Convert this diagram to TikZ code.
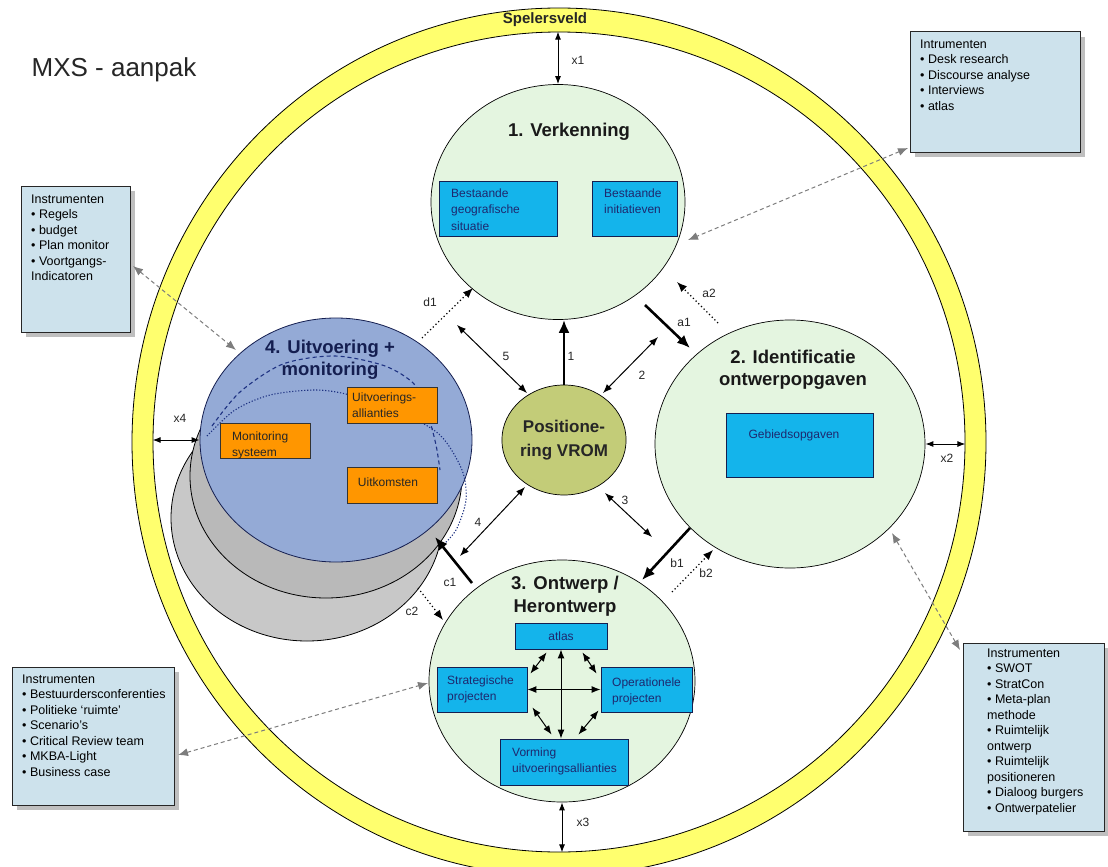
\documentclass[tikz,border=0pt]{standalone}
\usepackage{fontspec}
\setmainfont{Liberation Sans}
\usetikzlibrary{shapes.geometric,arrows.meta,calc}
\definecolor{ringy}{RGB}{255,255,110}
\definecolor{circg}{RGB}{228,245,224}
\definecolor{boxb}{RGB}{20,180,235}
\definecolor{navy}{RGB}{20,30,80}
\definecolor{navytxt}{RGB}{30,40,110}
\definecolor{orng}{RGB}{255,150,0}
\definecolor{instb}{RGB}{205,226,236}
\definecolor{posg}{RGB}{195,204,120}
\definecolor{blu4}{RGB}{148,170,214}
\definecolor{gry1}{RGB}{185,185,185}
\definecolor{gry2}{RGB}{200,200,200}
\definecolor{arcblue}{RGB}{30,50,130}
\definecolor{dgray}{RGB}{125,125,125}
\begin{document}
\begin{tikzpicture}[x=1pt,y=-1pt,
  circ/.style={ellipse, draw=black, line width=0.7pt, fill=circg, inner sep=0pt},
  bbox/.style={rectangle, draw=navy, line width=0.9pt, fill=boxb, inner sep=0pt},
  obox/.style={rectangle, draw=black!80, line width=0.8pt, fill=orng, inner sep=0pt},
  ibox/.style={rectangle, draw=black!85, line width=1pt, fill=instb, inner sep=0pt},
  btxt/.style={font=\fontsize{12}{16.5}\selectfont, text=navytxt, align=left, inner sep=0pt, anchor=north west},
  otxt/.style={font=\fontsize{12}{16}\selectfont, text=black!85, align=left, inner sep=0pt, anchor=north west},
  itxt/.style={font=\fontsize{12.5}{15.5}\selectfont, text=black, align=left, inner sep=0pt, anchor=north west},
  ttl/.style={font=\fontsize{18.5}{22}\selectfont\bfseries, text=black!90, align=center, inner sep=0pt},
  lbl/.style={font=\fontsize{12}{14}\selectfont, text=black!85, inner sep=0pt},
  dbl/.style={line width=1pt, {Latex[length=9pt,width=7pt]}-{Latex[length=9pt,width=7pt]}},
  xarr/.style={line width=1pt, {Latex[length=8pt,width=6pt]}-{Latex[length=8pt,width=6pt]}},
  thk/.style={line width=2.6pt, -{Latex[length=13pt,width=11pt]}},
  dotarr/.style={line width=1.2pt, dash pattern=on 1.2pt off 2.6pt, -{Latex[length=10pt,width=8pt]}},
  gdash/.style={dgray, line width=1pt, dash pattern=on 4pt off 3pt, {Latex[length=10pt,width=8pt]}-{Latex[length=10pt,width=8pt]}},
  shadow/.style={fill=black!25}
]
\useasboundingbox (0,0) rectangle (1108,867);
\fill[white] (0,0) rectangle (1108,867);

% ring
\begin{scope}
\clip (0,0) rectangle (1108,867);
\fill[ringy, even odd rule] (559,442) ellipse [x radius=427, y radius=434] (559,442) ellipse [x radius=406, y radius=410];
\draw[line width=0.8pt] (559,442) ellipse [x radius=427, y radius=434];
\end{scope}
\node[ellipse, draw, line width=0.8pt, minimum width=812pt, minimum height=820pt, inner sep=0pt] (ringin) at (559,442) {};
\node[font=\fontsize{15}{17}\selectfont\bfseries, text=black!85, inner sep=0pt] (spel) at (545,20) {Spelersveld};

\node[font=\fontsize{26}{30}\selectfont, text=black!85, inner sep=0pt] (title) at (114,70) {MXS - aanpak};

% circle 4 stack
\node[ellipse, draw=black, line width=0.8pt, fill=gry2, minimum width=272pt, minimum height=246pt, inner sep=0pt] (g2) at (307,518) {};
\node[ellipse, draw=black, line width=0.8pt, fill=gry1, minimum width=272pt, minimum height=244pt, inner sep=0pt] (g1) at (326,476) {};
\node[ellipse, draw=navy, line width=0.8pt, fill=blu4, minimum width=272pt, minimum height=244pt, inner sep=0pt] (c4) at (336,440) {};
\draw[arcblue, line width=1.1pt, dash pattern=on 4pt off 3pt] plot[smooth] coordinates {(212,426) (240,392) (283,364) (335,356) (385,366) (415,385) (428,415) (436,445) (440,470)};
\draw[arcblue, line width=1.1pt, dash pattern=on 1.2pt off 1.8pt] plot[smooth] coordinates {(207,436) (235,410) (270,395) (315,390) (350,395) (400,412) (440,435) (462,470) (466,500) (456,530) (440,548)};

% circles
\node[circ, minimum width=254pt, minimum height=235pt] (c1) at (558,202) {};
\node[circ, minimum width=270pt, minimum height=248pt] (c2) at (790,444) {};
\node[circ, minimum width=266pt, minimum height=242pt] (c3) at (562,681) {};
\node[ellipse, draw=black, line width=0.7pt, fill=posg, minimum width=114pt, minimum height=110pt, inner sep=0pt, align=center, font=\fontsize{17}{24}\selectfont\bfseries, text=black!85] (pos) at (564,440) {Positione-\\ring VROM};

% titles
\node[ttl] (t1) at (569,132) {1. Verkenning};
\node[ttl] (t2) at (793,370) {2. Identificatie\\ontwerpopgaven};
\node[ttl, font=\fontsize{18.5}{23}\selectfont\bfseries] (t3) at (565,596) {3. Ontwerp /\\Herontwerp};
\node[ttl, text=navy] (t4) at (330,360) {4. Uitvoering +\\monitoring};

% blue boxes
\node[bbox, minimum width=118pt, minimum height=55pt] (b11) at (498,208.5) {};
\node[btxt] (b11t) at (451,188.4) {Bestaande\\geografische\\situatie};
\node[bbox, minimum width=85pt, minimum height=55pt] (b12) at (634.5,208.5) {};
\node[btxt] (b12t) at (604,188.4) {Bestaande\\initiatieven};
\node[bbox, minimum width=147pt, minimum height=64pt] (b2) at (799.5,445) {};
\node[btxt, anchor=center] (b2t) at (794,435) {Gebiedsopgaven};
\node[bbox, minimum width=92pt, minimum height=26pt] (atlas) at (561,636) {};
\node[btxt, anchor=center] (atlast) at (561,636) {atlas};
\node[bbox, minimum width=90pt, minimum height=45pt] (strat) at (482,689.5) {};
\node[btxt] (stratt) at (447,675.4) {Strategische\\projecten};
\node[bbox, minimum width=91pt, minimum height=45pt] (oper) at (646.5,689.5) {};
\node[btxt] (opert) at (612,677.4) {Operationele\\projecten};
\node[bbox, minimum width=128pt, minimum height=46pt] (vorm) at (564,762) {};
\node[btxt] (vormt) at (512,747.4) {Vorming\\uitvoeringsallianties};

% orange boxes
\node[obox, minimum width=90pt, minimum height=36pt] (ua) at (392,405) {};
\node[otxt] (uat) at (352,392.4) {Uitvoerings-\\allianties};
\node[obox, minimum width=90pt, minimum height=35pt] (ms) at (265,440.5) {};
\node[otxt] (mst) at (232,431.4) {Monitoring\\systeem};
\node[obox, minimum width=90pt, minimum height=36pt] (uk) at (392,485) {};
\node[otxt, anchor=center] (ukt) at (388,482) {Uitkomsten};

% arrows inside circle 3
\draw[dbl] (atlas.south) -- (atlas.south |- vorm.north);
\draw[dbl] (strat.east) -- (oper.west);
\draw[dbl] ($(atlas.south west)+(32,3)$) -- ($(strat.north east)+(3,7)$);
\draw[dbl] ($(atlas.south east)+(-25,3)$) -- ($(oper.north west)+(-4,7)$);
\draw[dbl] ($(strat.south east)+(5,-5)$) -- ($(vorm.north west)+(52,-4)$);
\draw[dbl] ($(oper.south west)+(-2,-2)$) -- ($(vorm.north east)+(-50,-4)$);

% x arrows
\draw[xarr] (c1.north) -- (c1.north |- ringin.north);
\draw[xarr] (c2.east) -- (c2.east -| ringin.east);
\draw[xarr] (c3.south) -- (c3.south |- ringin.south);
\draw[xarr] (c4.west) -- (c4.west -| ringin.west);
\node[lbl] (lx1) at (578,60) {x1};
\node[lbl] (lx2) at (947,458) {x2};
\node[lbl] (lx3) at (583,822) {x3};
\node[lbl] (lx4) at (180,418) {x4};

% free coordinates
\coordinate (p5a) at (457,325); \coordinate (p5b) at (527,393);
\coordinate (p2a) at (658,337); \coordinate (p2b) at (603,393);
\coordinate (p3a) at (605,493); \coordinate (p3b) at (652,537);
\coordinate (p4a) at (525,487); \coordinate (p4b) at (460,556);
\coordinate (a1s) at (645,305); \coordinate (a1e) at (690,348);
\coordinate (a2s) at (718,323); \coordinate (a2e) at (677,282);
\coordinate (b1s) at (690,528); \coordinate (b1e) at (642,580);
\coordinate (b2s) at (672,592); \coordinate (b2e) at (713,550);
\coordinate (c1s) at (472,583); \coordinate (c1e) at (435,537);
\coordinate (c2s) at (418,588); \coordinate (c2e) at (443,620);
\coordinate (d1s) at (422,338); \coordinate (d1e) at (473,288);

\draw[thk] (pos.north) -- (pos.north |- c1.south);
\draw[dbl] (p5a) -- (p5b);
\draw[dbl] (p2a) -- (p2b);
\draw[dbl] (p3a) -- (p3b);
\draw[dbl] (p4a) -- (p4b);
\draw[thk] (a1s) -- (a1e);
\draw[dotarr] (a2s) -- (a2e);
\draw[thk] (b1s) -- (b1e);
\draw[dotarr] (b2s) -- (b2e);
\draw[thk] (c1s) -- (c1e);
\draw[dotarr] (c2s) -- (c2e);
\draw[dotarr] (d1s) -- (d1e);

\node[lbl] (l1) at (571,356) {1};
\node[lbl] (l5) at (506,356) {5};
\node[lbl] (l2) at (642,375) {2};
\node[lbl] (l3) at (625,500) {3};
\node[lbl] (l4) at (478,522) {4};
\node[lbl] (la1) at (684,322) {a1};
\node[lbl] (la2) at (709,293) {a2};
\node[lbl] (lb1) at (677,563) {b1};
\node[lbl] (lb2) at (706,573) {b2};
\node[lbl] (lc1) at (450,582) {c1};
\node[lbl] (lc2) at (412,611) {c2};
\node[lbl] (ld1) at (430,302) {d1};

% instrument boxes
\fill[shadow] (915,37) rectangle (1085,157);
\node[ibox, minimum width=170pt, minimum height=120pt] (itr) at (995,92) {};
\node[itxt] (itrt) at (920,39.5) {Intrumenten\\\textbullet\ Desk research\\\textbullet\ Discourse analyse\\\textbullet\ Interviews\\\textbullet\ atlas};

\fill[shadow] (26,191) rectangle (135,337);
\node[ibox, minimum width=109pt, minimum height=146pt] (il) at (75.5,259) {};
\node[itxt] (ilt) at (31,194.5) {Instrumenten\\\textbullet\ Regels\\\textbullet\ budget\\\textbullet\ Plan monitor\\\textbullet\ Voortgangs-\\Indicatoren};

\fill[shadow] (17,672) rectangle (179,810);
\node[ibox, minimum width=162pt, minimum height=138pt] (ibl) at (93,736) {};
\node[itxt] (iblt) at (22,674.5) {Instrumenten\\\textbullet\ Bestuurdersconferenties\\\textbullet\ Politieke `ruimte'\\\textbullet\ Scenario's\\\textbullet\ Critical Review team\\\textbullet\ MKBA-Light\\\textbullet\ Business case};

\fill[shadow] (968,648) rectangle (1108,836);
\node[ibox, minimum width=141pt, minimum height=188pt] (ibr) at (1033.5,737) {};
\node[itxt] (ibrt) at (987,648.5) {Instrumenten\\\textbullet\ SWOT\\\textbullet\ StratCon\\\textbullet\ Meta-plan\\methode\\\textbullet\ Ruimtelijk\\ontwerp\\\textbullet\ Ruimtelijk\\positioneren\\\textbullet\ Dialoog burgers\\\textbullet\ Ontwerpatelier};

% gray dashed connectors
\coordinate (gtr1) at (908,148); \coordinate (gtr2) at (688,240);
\coordinate (gl1) at (133,266); \coordinate (gl2) at (236,350);
\coordinate (gbl1) at (178,755); \coordinate (gbl2) at (428,683);
\coordinate (gbr1) at (960,650); \coordinate (gbr2) at (892,533);
\draw[gdash] (gtr1) -- (gtr2);
\draw[gdash] (gl1) -- (gl2);
\draw[gdash] (gbl1) -- (gbl2);
\draw[gdash] (gbr1) -- (gbr2);
\end{tikzpicture}
\end{document}
